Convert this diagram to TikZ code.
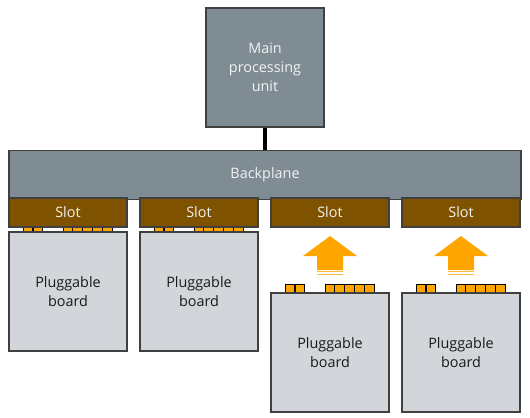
\documentclass[tikz,border=0pt]{standalone}
\usepackage{fontspec}
\setmainfont{Open Sans}
\usepackage{xcolor}
\usetikzlibrary{positioning}

\definecolor{unitgray}{HTML}{7F8C94}
\definecolor{edgegray}{HTML}{404040}
\definecolor{slotbrown}{HTML}{7F5200}
\definecolor{boardgray}{HTML}{D2D6DA}
\definecolor{pinorange}{HTML}{FFA500}
\definecolor{textlight}{HTML}{F2F2F2}
\newdimen\px \px=0.75pt

\begin{document}
\begin{tikzpicture}[x=0.75pt,y=-0.75pt,
    unitbox/.style={draw=edgegray, fill=unitgray, text=textlight, line width=0.8pt,
        align=center, inner sep=0pt, font=\fontsize{10.8}{14.4}\selectfont},
    slotbox/.style={draw=edgegray, fill=slotbrown, text=textlight, line width=0.8pt,
        minimum width=118\px, minimum height=29\px, inner sep=0pt, font=\fontsize{10.8}{14.4}\selectfont},
    boardbox/.style={draw=edgegray, fill=boardgray, text=black!90, line width=0.8pt,
        minimum width=118\px, minimum height=119\px, align=center, inner sep=0pt,
        font=\fontsize{10.8}{14.4}\selectfont},
    pin/.style={fill=pinorange, draw=black, line width=0.5pt},
    link/.style={line width=3.2pt, black}]
    \useasboundingbox (0,0) rectangle (530,417);

    % Main unit and backplane
    \node[unitbox, minimum width=118\px, minimum height=119\px] (main) at (265,67.5) {Main\\processing\\unit};
    \node[unitbox, minimum width=512\px, minimum height=49\px, below=22\px of main] (backplane) {Backplane};
    \draw[link] (main) -- (backplane);

    % Pins, slots and boards
    \foreach \i in {0,...,3} {
        \pgfmathsetmacro{\xl}{9+131*\i}
        \pgfmathsetmacro{\yt}{\i<2 ? 223 : 284}
        \pgfmathsetmacro{\yc}{\i<2 ? 291.5 : 352.5}
        \foreach \dx in {14,24,54,63.8,73.6,83.4,93.2} {
            \filldraw[pin] (\xl+\dx,\yt) rectangle ++(9.8,9);
        }
        \node[slotbox] (slot\i) at (\xl+59,212.5) {Slot};
        \node[boardbox] (board\i) at (\xl+59,\yc) {Pluggable\\board};
    }

    % Insert arrows
    \foreach \i in {2,3} {
        \pgfmathsetmacro{\xc}{68+131*\i}
        \fill[pinorange] (\xc,236) -- (\xc+27,256) -- (\xc+13,256) -- (\xc+13,270)
            -- (\xc-13,270) -- (\xc-13,256) -- (\xc-27,256) -- cycle;
        \fill[pinorange!75] (\xc-13,271.3) rectangle (\xc+13,272.4);
        \fill[pinorange!75] (\xc-13,273.7) rectangle (\xc+13,274.8);
    }
\end{tikzpicture}
\end{document}
